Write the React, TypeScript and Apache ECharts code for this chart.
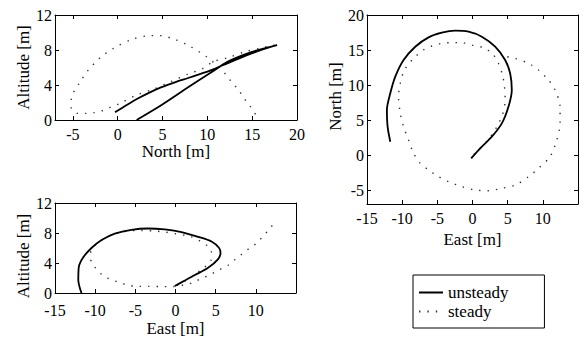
import React, { useEffect, useRef } from "react";
import * as echarts from "echarts";

// North vs Altitude (top-left)
const northAltUnsteady: number[][] = [
  [-0.3, 0.88], [1.0, 1.71], [2.29, 2.48], [3.59, 3.16], [4.89, 3.75], [6.37, 4.3],
  [7.85, 4.8], [9.15, 5.25], [10.44, 5.7], [12.67, 6.67], [15.26, 7.73], [17.78, 8.57],
  [16.73, 8.3], [14.51, 7.62], [12.29, 6.67], [10.44, 5.45], [7.85, 3.73], [4.89, 1.71], [2.11, 0],
];
const northAltSteady: number[][] = [
  [15.37, 0.65], [14.81, 1.52], [14.14, 2.4], [13.48, 3.43], [12.67, 4.38], [12.11, 5.14],
  [11.1, 6.2], [9.89, 7.24], [8.14, 8.38], [6.55, 9.14], [4.7, 9.64], [3.67, 9.64],
  [1.62, 9.22], [-0.48, 8.19], [-1.97, 7.12], [-3.37, 5.6], [-4.3, 4.19], [-5.19, 2.4],
  [-5.19, 1.41], [-4.44, 0.76], [-3.44, 0.76], [-2.6, 0.84], [-1.48, 1.14], [-0.67, 1.52],
  [0.26, 1.9], [2.11, 2.86], [4.03, 3.54], [5.92, 4.38], [7.78, 5.22], [9.52, 5.9],
  [10.63, 6.67], [12.29, 7.12], [14.26, 7.81], [16.18, 8.27], [17.48, 8.57],
];

// East vs Altitude (bottom-left)
const eastAltUnsteady: number[][] = [
  [-0.09, 0.94], [1.16, 1.66], [2.4, 2.39], [4.06, 3.36], [5.31, 4.51], [5.6, 5.36],
  [5.43, 6.0], [4.48, 6.86], [2.81, 7.49], [0.75, 8.13], [-1.33, 8.47], [-3.41, 8.6],
  [-5.48, 8.43], [-7.56, 7.92], [-9.2, 7.07], [-10.46, 6.0], [-11.5, 4.73], [-12.04, 3.45],
  [-12.1, 1.75], [-11.7, 0],
];
const eastAltSteady: number[][] = [
  [0.2, 1.0], [1.8, 2.0], [3.3, 3.2], [4.4, 4.3], [4.48, 5.36], [4.06, 6.22], [3.03, 6.94],
  [1.99, 7.49], [1.16, 7.7], [-0.09, 7.92], [-1.33, 8.13], [-2.58, 8.26], [-4.23, 8.34],
  [-6.72, 8.13], [-8.8, 7.28], [-10.1, 6.3], [-10.55, 5.58], [-10.55, 4.51], [-10.0, 3.4],
  [-9.22, 2.51], [-8.39, 1.96], [-7.35, 1.53], [-6.1, 1.11], [-4.86, 0.89], [-3.41, 0.89],
  [-1.74, 0.85], [-0.3, 0.85], [1.16, 1.11], [2.19, 1.4], [3.24, 1.96], [4.27, 2.39],
  [5.31, 3.03], [6.48, 3.66], [7.38, 4.43], [8.22, 5.15], [9.25, 6.0], [10.09, 6.64],
  [10.9, 7.58], [11.53, 8.34], [12.37, 9.4],
];

// East vs North (right)
const eastNorthUnsteady: number[][] = [
  [-0.19, -0.48], [1.09, 0.95], [2.75, 2.62], [4.17, 4.52], [5.11, 6.9], [5.59, 9.29],
  [5.35, 11.67], [4.64, 13.57], [3.22, 15.47], [1.33, 16.9], [-0.57, 17.62], [-2.46, 17.76],
  [-4.36, 17.48], [-6.25, 16.81], [-8.14, 15.47], [-9.8, 13.57], [-10.98, 11.19],
  [-11.69, 8.81], [-12.17, 6.43], [-12.07, 4.05], [-11.69, 1.9],
];
const eastNorthSteady: number[][] = [
  [0.2, 0.1], [2.0, 1.9], [3.4, 3.9], [4.3, 5.9], [4.64, 7.86], [4.55, 9.76], [4.26, 11.43],
  [3.69, 13.1], [2.98, 14.29], [1.8, 15.24], [-0.09, 15.71], [-1.52, 16.05], [-2.94, 16.05],
  [-4.36, 15.95], [-5.78, 15.57], [-6.96, 15.0], [-8.38, 13.81], [-9.66, 12.14],
  [-10.27, 10.24], [-10.51, 8.33], [-10.27, 5.95], [-9.8, 4.05], [-9.09, 2.14], [-8.38, 0.24],
  [-7.43, -1.19], [-6.25, -2.14], [-4.83, -3.1], [-3.41, -3.81], [-1.52, -4.52], [0.38, -5.0],
  [2.27, -5.1], [4.17, -4.76], [6.06, -4.29], [7.95, -3.1], [9.38, -1.9], [11.03, -0.24],
  [11.98, 2.14], [12.45, 4.52], [12.45, 6.9], [11.74, 9.29], [10.8, 10.71], [9.38, 12.14],
  [7.95, 13.1], [6.06, 13.81], [4.88, 14.05],
];

// Tick labels
const northTicks = [-5, 0, 5, 10, 15, 20];
const eastTicks = [-15, -10, -5, 0, 5, 10];
const altTicks = [0, 4, 8, 12];
const northTicksRight = [-5, 0, 5, 10, 15, 20];
const seriesNames = ["unsteady", "steady"];

const FONT = "'Liberation Serif', 'Times New Roman', serif";
const BLACK = "#000";
const TICK_FS = 16;
const NAME_FS = 17;

function xAx(grid: number, min: number, max: number, ticks: number[], name: string, nameGap: number, margin: number) {
  return [
    {
      type: "value", gridIndex: grid, position: "bottom", min, max,
      name, nameLocation: "middle", nameGap,
      nameTextStyle: { fontFamily: FONT, fontSize: NAME_FS, color: BLACK },
      axisLine: { show: true, onZero: false, lineStyle: { color: BLACK, width: 1 } },
      axisTick: { show: true, inside: true, length: 4, customValues: ticks, lineStyle: { color: BLACK } },
      axisLabel: { show: true, customValues: ticks, margin, fontFamily: FONT, fontSize: TICK_FS, color: BLACK },
      splitLine: { show: false },
    },
    {
      type: "value", gridIndex: grid, position: "top", min, max,
      axisLine: { show: true, onZero: false, lineStyle: { color: BLACK, width: 1 } },
      axisTick: { show: true, inside: true, length: 4, customValues: ticks, lineStyle: { color: BLACK } },
      axisLabel: { show: false },
      splitLine: { show: false },
    },
  ];
}

function yAx(grid: number, min: number, max: number, ticks: number[], name: string, nameGap: number, namePad: number[]) {
  return [
    {
      type: "value", gridIndex: grid, position: "left", min, max,
      name, nameLocation: "middle", nameGap, nameRotate: 90,
      nameTextStyle: { fontFamily: FONT, fontSize: NAME_FS, color: BLACK, padding: namePad },
      axisLine: { show: true, onZero: false, lineStyle: { color: BLACK, width: 1 } },
      axisTick: { show: true, inside: true, length: 4, customValues: ticks, lineStyle: { color: BLACK } },
      axisLabel: { show: true, customValues: ticks, margin: 3, fontFamily: FONT, fontSize: TICK_FS, color: BLACK },
      splitLine: { show: false },
    },
    {
      type: "value", gridIndex: grid, position: "right", min, max,
      axisLine: { show: true, onZero: false, lineStyle: { color: BLACK, width: 1 } },
      axisTick: { show: true, inside: true, length: 4, customValues: ticks, lineStyle: { color: BLACK } },
      axisLabel: { show: false },
      splitLine: { show: false },
    },
  ];
}

const solidStyle = { color: "#000", width: 1.8, type: "solid" as const };
const dotStyle = { color: "#333", width: 1.4, type: [1.4, 7] as number[], cap: "butt" as const };

function pair(idx: number, unsteady: number[][], steady: number[][]) {
  return [
    {
      name: seriesNames[0], type: "line", xAxisIndex: idx * 2, yAxisIndex: idx * 2,
      data: unsteady, symbol: "none", showSymbol: false, smooth: 0.3,
      lineStyle: solidStyle, itemStyle: { color: "#000" }, z: 3,
    },
    {
      name: seriesNames[1], type: "line", xAxisIndex: idx * 2, yAxisIndex: idx * 2,
      data: steady, symbol: "none", showSymbol: false, smooth: 0.3,
      lineStyle: dotStyle, itemStyle: { color: "#333" }, z: 2,
    },
  ];
}

export default function App() {
  const ref = useRef<HTMLDivElement>(null);
  useEffect(() => {
    if (!ref.current) return;
    const chart = echarts.init(ref.current, null, { renderer: "svg" });
    chart.setOption({
      animation: false,
      backgroundColor: "#fff",
      textStyle: { fontFamily: FONT },
      grid: [
        { left: 55, top: 15, width: 242, height: 105, show: false },
        { left: 55, top: 203, width: 241, height: 94, show: false },
        { left: 367, top: 15, width: 211, height: 189, show: false },
      ],
      xAxis: [
        ...xAx(0, -7, 20, northTicks, "North [m]", 21, 6),
        ...xAx(1, -15, 15, eastTicks, "East [m]", 27, 9),
        ...xAx(2, -15, 15, eastTicks, "East [m]", 25, 6),
      ],
      yAxis: [
        ...yAx(0, 0, 12, altTicks, "Altitude [m]", 21, [0, 0, 0, 0]),
        ...yAx(1, 0, 12, altTicks, "Altitude [m]", 21, [0, 16, 0, 0]),
        ...yAx(2, -7, 20, northTicksRight, "North [m]", 23, [0, 0, 0, 26]),
      ],
      legend: {
        data: seriesNames,
        orient: "vertical",
        left: 413,
        top: 275,
        padding: [9, 36, 8, 5],
        itemGap: 2,
        itemWidth: 24,
        itemHeight: 14,
        borderColor: "#000",
        borderWidth: 1,
        backgroundColor: "#fff",
        itemStyle: { color: "rgba(0,0,0,0)", borderColor: "rgba(0,0,0,0)", borderWidth: 0, opacity: 0 },
        textStyle: { fontFamily: FONT, fontSize: 17, color: "#000" },
      },
      series: [
        ...pair(0, northAltUnsteady, northAltSteady),
        ...pair(1, eastAltUnsteady, eastAltSteady),
        ...pair(2, eastNorthUnsteady, eastNorthSteady),
      ],
    });
    return () => chart.dispose();
  }, []);
  return (
    <div
      ref={ref}
      style={{ position: "absolute", left: 0, top: 0, width: 584, height: 338 }}
    />
  );
}
